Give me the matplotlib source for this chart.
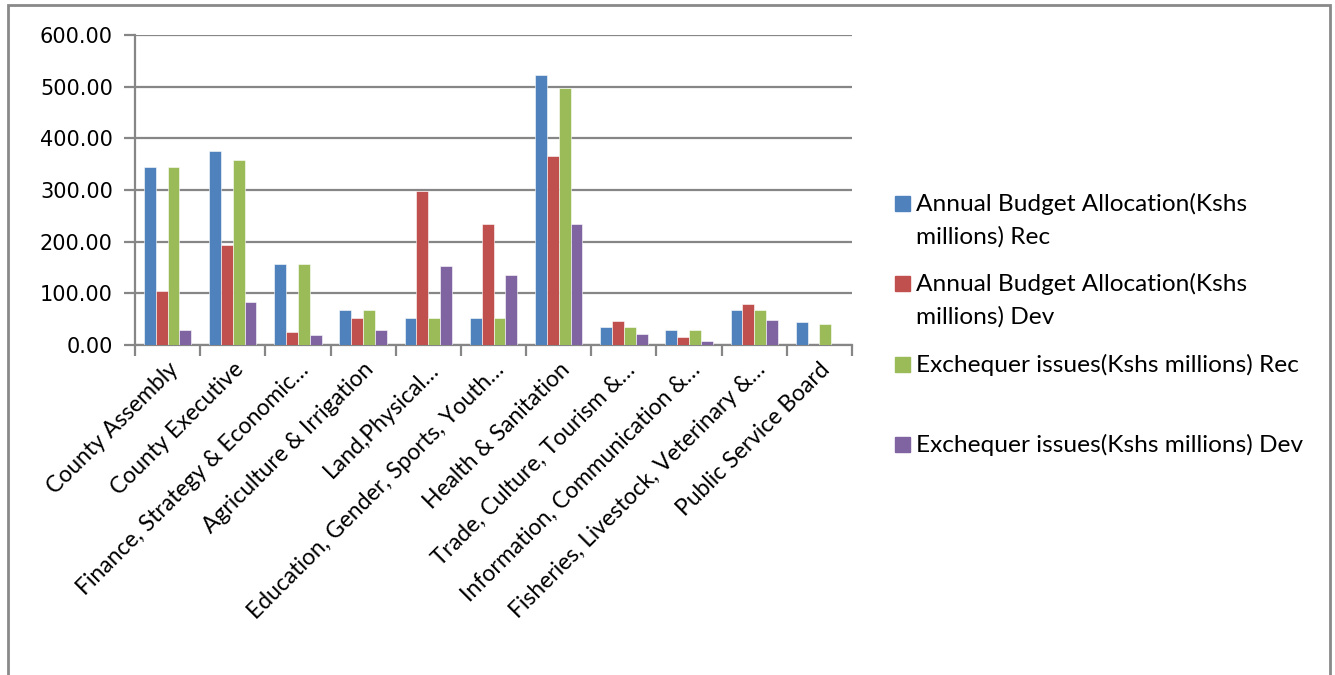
import numpy as np
import matplotlib.pyplot as plt
from matplotlib.patches import Rectangle

departments = [
    "County Assembly",
    "County Executive",
    "Finance, Strategy & Economic\u2026",
    "Agriculture & Irrigation",
    "Land,Physical\u2026",
    "Education, Gender, Sports, Youth\u2026",
    "Health & Sanitation",
    "Trade, Culture, Tourism &\u2026",
    "Information, Communication &\u2026",
    "Fisheries, Livestock, Veterinary &\u2026",
    "Public Service Board",
]

budget_rec = [344, 375, 157, 67, 52, 53, 522, 35, 30, 68, 44]
budget_dev = [104, 194, 26, 53, 298, 234, 366, 46, 15, 79, 0]
exchequer_rec = [344, 359, 157, 67, 52, 53, 497, 35, 30, 68, 41]
exchequer_dev = [30, 84, 19, 29, 152, 136, 234, 22, 8, 48, 0]

series_names = [
    "Annual Budget Allocation(Kshs\nmillions) Rec",
    "Annual Budget Allocation(Kshs\nmillions) Dev",
    "Exchequer issues(Kshs millions) Rec",
    "Exchequer issues(Kshs millions) Dev",
]
colors = ["#4F81BD", "#C0504D", "#9BBB59", "#8064A2"]

W, H = 1335, 675
fig = plt.figure(figsize=(W / 100, H / 100), dpi=100)
fig.patch.set_facecolor("white")

# chart frame
fig.add_artist(Rectangle((8 / W, -0.1), (1330 - 8) / W, (H - 5) / H + 0.1,
                         transform=fig.transFigure, fill=False,
                         edgecolor="#898989", lw=2))

ax = fig.add_axes([135 / W, (H - 345) / H, 717 / W, 310 / H])

grid_col = "#868686"
x = np.arange(len(departments))
bw = 1 / 5.5
all_series = [budget_rec, budget_dev, exchequer_rec, exchequer_dev]
for i, vals in enumerate(all_series):
    ax.bar(x + (i - 1.5) * bw, vals, width=bw, color=colors[i],
           edgecolor="white", linewidth=0.4, zorder=3)

ax.set_xlim(-0.5, len(departments) - 0.5)
ax.set_ylim(0, 600)
ax.set_yticks(np.arange(0, 601, 100))
ax.set_yticklabels(["%.2f" % v for v in np.arange(0, 601, 100)],
                   fontsize=15, family="DejaVu Sans")
ax.yaxis.grid(True, color=grid_col, lw=1.6, zorder=0)

# category boundaries get the tick marks, centres get the names
ax.set_xticks(np.arange(-0.5, len(departments)), minor=False)
ax.set_xticklabels([])
ax.set_xticks(x, minor=True)
ax.set_xticklabels(departments, minor=True, rotation=45, ha="right",
                   va="top", rotation_mode="anchor", fontsize=16.5,
                   family="Lato")
ax.tick_params(axis="x", which="minor", length=0, pad=10)
ax.tick_params(axis="x", which="major", length=8, width=1.6, color=grid_col)
ax.tick_params(axis="y", length=8, width=1.6, color=grid_col, pad=8)

for s in ["top", "right"]:
    ax.spines[s].set_visible(False)
for s in ["left", "bottom"]:
    ax.spines[s].set_color(grid_col)
    ax.spines[s].set_linewidth(1.6)

# legend, laid out in pixel rows
rows = [204, 284, 365, 445]
for name, col, yrow in zip(series_names, colors, rows):
    fig.add_artist(Rectangle((895 / W, (H - yrow - 7) / H), 15 / W, 15 / H,
                             transform=fig.transFigure, color=col))
    fig.text(916 / W, (H - yrow + 11) / H, name, fontsize=17.6, family="Lato",
             va="top", ha="left", linespacing=1.6)

fig.savefig("out.png", dpi=100)
